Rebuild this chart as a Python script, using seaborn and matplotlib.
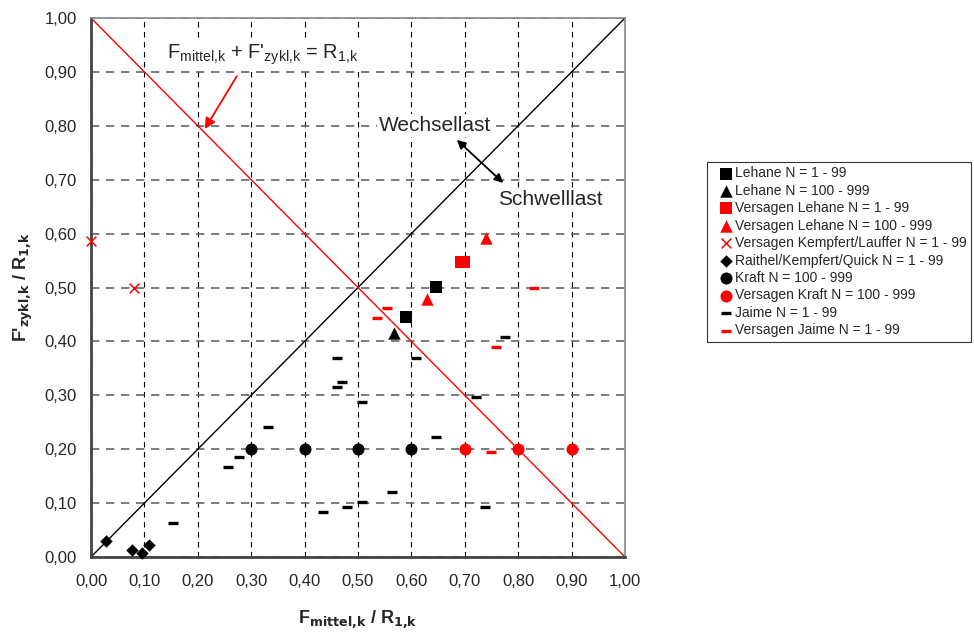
import matplotlib
matplotlib.use("Agg")
import matplotlib.pyplot as plt
import seaborn as sns

# ── Data ─────────────────────────────────────────────────────────────────────
lehane_1_x = [0.59, 0.646]
lehane_1_y = [0.445, 0.501]
lehane_100_x = [0.567]
lehane_100_y = [0.416]
fail_lehane_1_x = [0.692, 0.698]
fail_lehane_1_y = [0.547, 0.547]
fail_lehane_100_x = [0.629, 0.740]
fail_lehane_100_y = [0.479, 0.592]
fail_kempfert_x = [0.0, 0.08]
fail_kempfert_y = [0.586, 0.50]
raithel_x = [0.028, 0.077, 0.095, 0.109]
raithel_y = [0.030, 0.013, 0.007, 0.022]
kraft_x = [0.30, 0.40, 0.50, 0.60]
kraft_y = [0.20, 0.20, 0.20, 0.20]
fail_kraft_x = [0.70, 0.80, 0.90]
fail_kraft_y = [0.20, 0.20, 0.20]
jaime_x = [0.154, 0.257, 0.277, 0.331, 0.434, 0.461, 0.470, 0.461, 0.508,
           0.608, 0.646, 0.563, 0.508, 0.479, 0.738, 0.721, 0.775]
jaime_y = [0.063, 0.167, 0.186, 0.241, 0.083, 0.369, 0.325, 0.315, 0.287,
           0.369, 0.222, 0.120, 0.102, 0.093, 0.093, 0.297, 0.408]
fail_jaime_x = [0.535, 0.554, 0.758, 0.749, 0.830]
fail_jaime_y = [0.444, 0.462, 0.390, 0.195, 0.499]

line_x = [0.0, 1.0]
diag_up = [0.0, 1.0]
diag_down = [1.0, 0.0]

ticks = [i / 10 for i in range(11)]
tick_labels = [f"{t:.2f}".replace(".", ",") for t in ticks]

# ── Style ────────────────────────────────────────────────────────────────────
sns.set_style("white")
plt.rcParams["font.family"] = ["Liberation Sans", "DejaVu Sans"]
plt.rcParams["mathtext.default"] = "regular"

fig = plt.figure(figsize=(9.74, 6.32), dpi=100)
ax = fig.add_axes([91 / 974, 1 - 557 / 632, 534 / 974, 539 / 632])

# ── Reference lines ──────────────────────────────────────────────────────────
sns.lineplot(x=line_x, y=diag_up, color="black", linewidth=1.0, ax=ax,
             legend=False, zorder=2)
sns.lineplot(x=line_x, y=diag_down, color="red", linewidth=1.0, ax=ax,
             legend=False, zorder=2)

# ── Series ───────────────────────────────────────────────────────────────────
series = [
    (lehane_1_x, lehane_1_y, "s", "black", 70, "Lehane N = 1 - 99"),
    (lehane_100_x, lehane_100_y, "^", "black", 80, "Lehane N = 100 - 999"),
    (fail_lehane_1_x, fail_lehane_1_y, "s", "red", 70, "Versagen Lehane N = 1 - 99"),
    (fail_lehane_100_x, fail_lehane_100_y, "^", "red", 80, "Versagen Lehane N = 100 - 999"),
    (fail_kempfert_x, fail_kempfert_y, "x", "red", 50, "Versagen Kempfert/Lauffer N = 1 - 99"),
    (raithel_x, raithel_y, "D", "black", 40, "Raithel/Kempfert/Quick N = 1 - 99"),
    (kraft_x, kraft_y, "o", "black", 75, "Kraft N = 100 - 999"),
    (fail_kraft_x, fail_kraft_y, "o", "red", 75, "Versagen Kraft N = 100 - 999"),
    (jaime_x, jaime_y, "_", "black", 60, "Jaime N = 1 - 99"),
    (fail_jaime_x, fail_jaime_y, "_", "red", 60, "Versagen Jaime N = 1 - 99"),
]
for xs, ys, mk, col, size, lab in series:
    if mk in ("x", "_"):
        lw = 2.4 if mk == "_" else 1.1
        sns.scatterplot(x=xs, y=ys, marker=mk, color=col, s=size, linewidth=lw,
                        label=lab, ax=ax, zorder=4, clip_on=False)
    else:
        sns.scatterplot(x=xs, y=ys, marker=mk, color=col, s=size, linewidth=0,
                        edgecolor=col, label=lab, ax=ax, zorder=4, clip_on=False)

# ── Axes ─────────────────────────────────────────────────────────────────────
ax.set_xlim(0, 1)
ax.set_ylim(0, 1)
ax.set_xticks(ticks)
ax.set_yticks(ticks)
ax.set_xticklabels(tick_labels, fontsize=12)
ax.set_yticklabels(tick_labels, fontsize=12)
ax.tick_params(direction="out", length=4, width=1, color="#555555")
ax.tick_params(axis="x", pad=8)
ax.tick_params(axis="y", pad=6)
ax.xaxis.grid(True, linestyle=(0, (5, 4)), color="black", linewidth=0.8)
ax.yaxis.grid(True, linestyle=(0, (5, 4)), color="#666666", linewidth=1.2)
ax.set_axisbelow(True)
for side in ["left", "bottom"]:
    ax.spines[side].set_color("#444444")
    ax.spines[side].set_linewidth(2)
for side in ["top", "right"]:
    ax.spines[side].set_color("#888888")
    ax.spines[side].set_linewidth(1.2)

ax.set_xlabel("F$_{\\mathbf{mittel{,}k}}$ / R$_{\\mathbf{1{,}k}}$",
              fontsize=13, fontweight="bold", labelpad=14)
ax.set_ylabel("F'$_{\\mathbf{zykl{,}k}}$ / R$_{\\mathbf{1{,}k}}$",
              fontsize=13, fontweight="bold", labelpad=7)

# ── Annotations ──────────────────────────────────────────────────────────────
white_box = dict(facecolor="white", edgecolor="none", pad=1.5)
ax.text(0.321, 0.931, "F$_{mittel{,}k}$ + F'$_{zykl{,}k}$ = R$_{1{,}k}$",
        ha="center", va="center", fontsize=14.5, bbox=white_box)
ax.annotate("", xy=(0.213, 0.794), xytext=(0.273, 0.892),
            arrowprops=dict(arrowstyle="-|>", color="red", lw=1.3,
                            mutation_scale=16, shrinkA=0, shrinkB=0))
ax.text(0.645, 0.800, "Wechsellast", ha="center", va="center", fontsize=15,
        bbox=white_box)
ax.text(0.860, 0.664, "Schwelllast", ha="center", va="center", fontsize=15,
        bbox=white_box)
ax.annotate("", xy=(0.685, 0.774), xytext=(0.772, 0.694),
            arrowprops=dict(arrowstyle="<|-|>", color="black", lw=1.3,
                            mutation_scale=13, shrinkA=0, shrinkB=0))

# ── Legend ───────────────────────────────────────────────────────────────────
leg = ax.legend(loc="upper left", bbox_to_anchor=(707 / 974, 1 - 162 / 632),
                bbox_transform=fig.transFigure, fontsize=10.0, frameon=True,
                fancybox=False, edgecolor="black", borderpad=0.3,
                handletextpad=-0.5, handlelength=2.2, labelspacing=0.25,
                borderaxespad=0, markerscale=1.0)
leg.get_frame().set_linewidth(0.8)

fig.savefig("out.png", dpi=100)
